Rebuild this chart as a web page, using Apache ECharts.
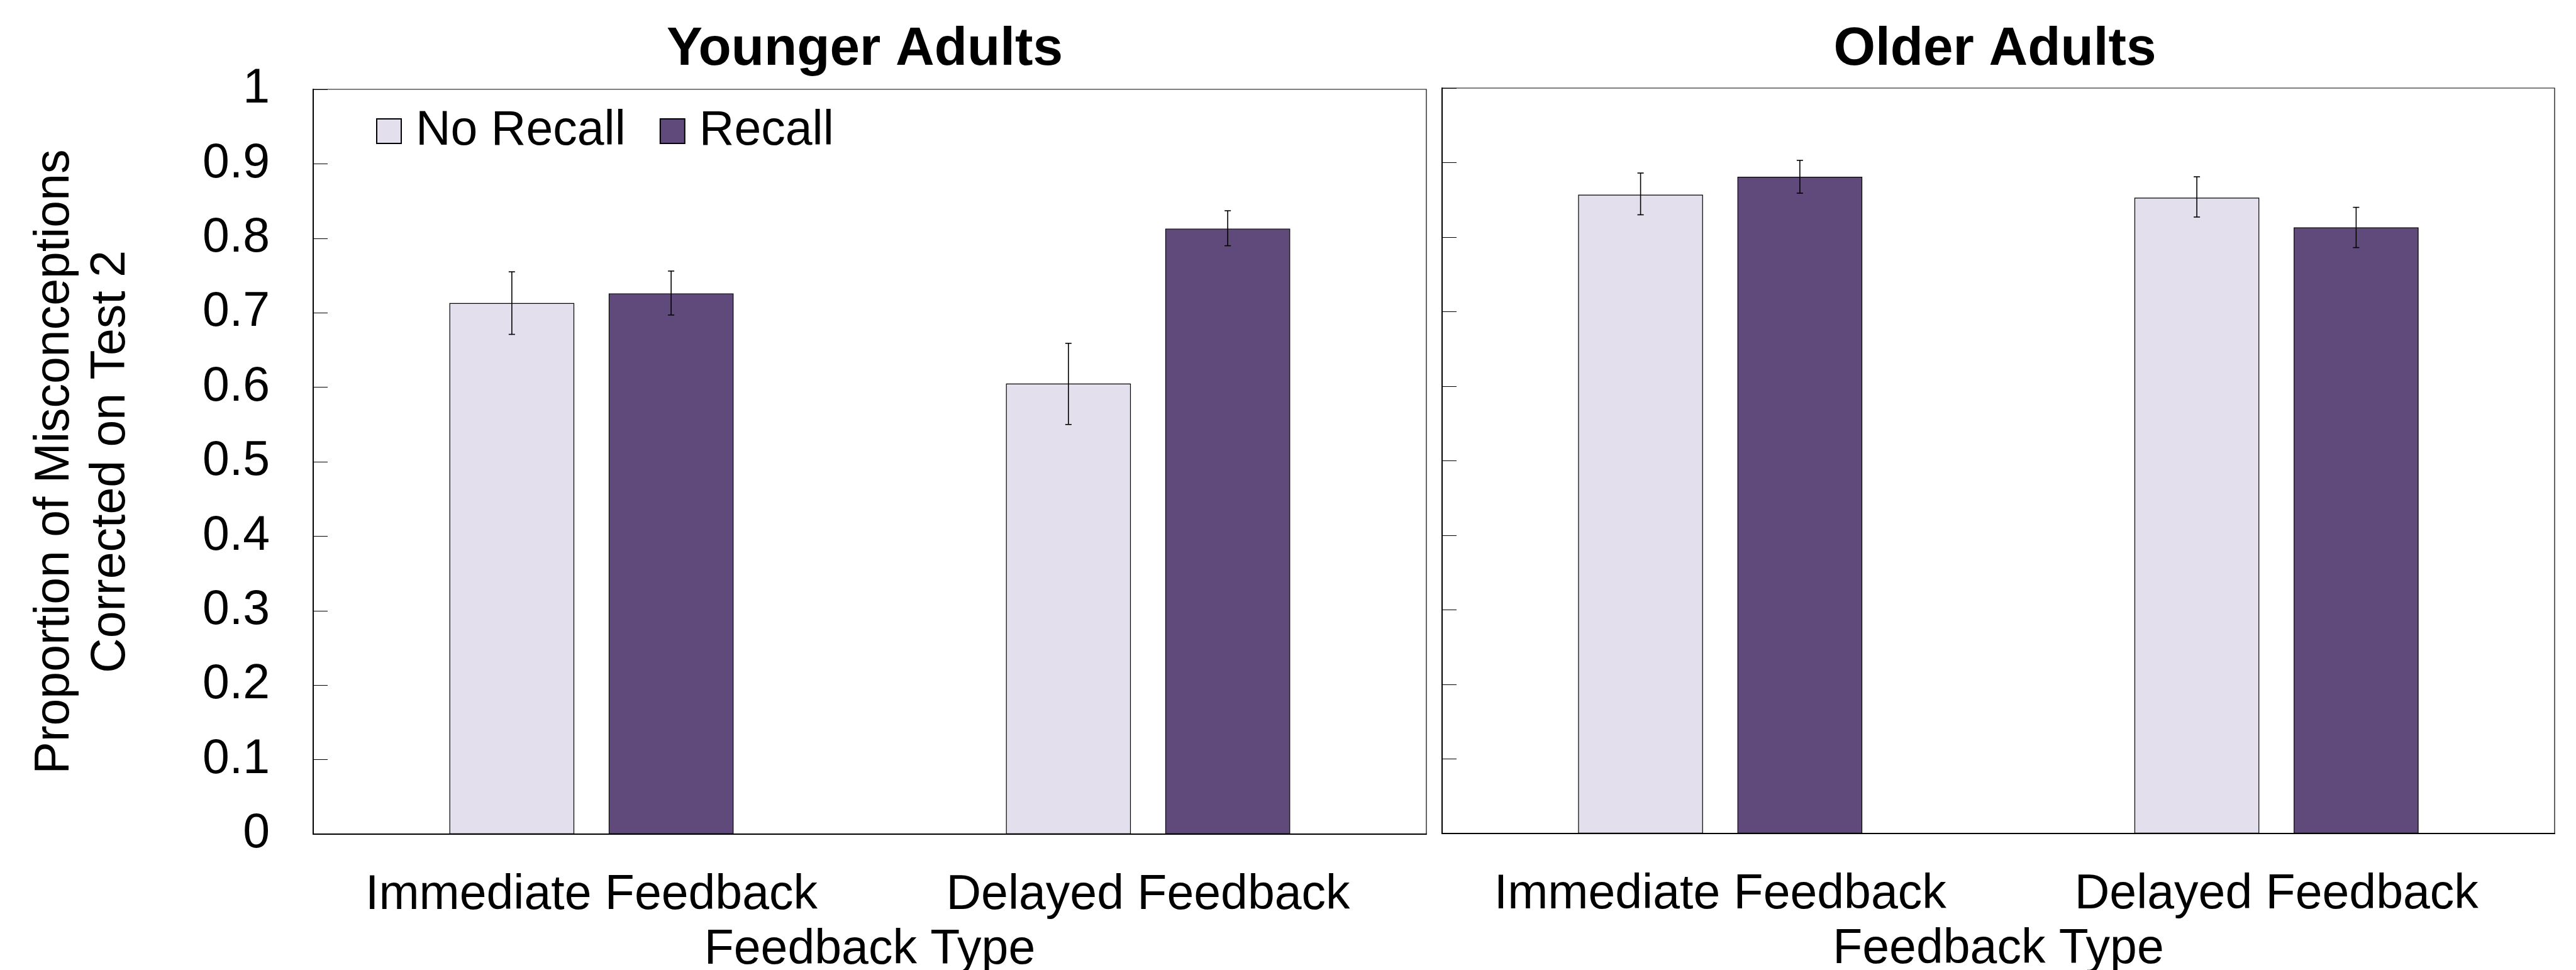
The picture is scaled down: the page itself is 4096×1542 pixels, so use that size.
<!DOCTYPE html>
<html><head><meta charset="utf-8">
<script src="https://cdn.jsdelivr.net/npm/echarts@6/dist/echarts.min.js"></script>
<style>html,body{margin:0;padding:0;background:#fff;} #c{width:4096px;height:1542px;}</style>
</head><body><div id="c"></div>
<script>
// ---- data ----
const categories = ['Immediate Feedback', 'Delayed Feedback'];
const panelTitles = ['Younger Adults', 'Older Adults'];
const seriesNames = ['No Recall', 'Recall'];
const youngNoRecall = [0.713, 0.605];
const youngRecall   = [0.726, 0.813];
const oldNoRecall   = [0.857, 0.853];
const oldRecall     = [0.881, 0.813];
// error bars [low, high]
const youngNoRecallErr = [[0.671, 0.755], [0.550, 0.659]];
const youngRecallErr   = [[0.697, 0.756], [0.790, 0.837]];
const oldNoRecallErr   = [[0.830, 0.886], [0.827, 0.881]];
const oldRecallErr     = [[0.859, 0.903], [0.786, 0.840]];
const yMin = 0, yMax = 1, yStep = 0.1;
const xAxisTitle = 'Feedback Type';
const yAxisTitle = 'Proportion of Misconceptions\nCorrected on Test 2';

// ---- style ----
const FONT = '"Liberation Sans", Arial, sans-serif';
const FS = 77;
const LIGHT = '#E4DFEC', DARK = '#604A7B';
const BAR_W = 198.5, GAP_RATIO = 0.276;
const BAR_OFFSET = (BAR_W + BAR_W * GAP_RATIO) / 2;
const CAP = 5;

const chart = echarts.init(document.getElementById('c'), null, {renderer: 'canvas'});

function barSeries(gi, name, data, color) {
  return {
    type: 'bar', name, xAxisIndex: gi, yAxisIndex: gi, data,
    barWidth: BAR_W, barGap: (GAP_RATIO * 100) + '%',
    itemStyle: {color, borderColor: '#000', borderWidth: 1.2},
    emphasis: {disabled: true}, animation: false
  };
}
function errSeries(gi, data, sign) {
  return {
    type: 'custom', xAxisIndex: gi, yAxisIndex: gi, z: 10,
    data: data.map((d, i) => [i, d[0], d[1]]),
    encode: {x: 0, y: [1, 2]},
    silent: true, animation: false,
    renderItem: (params, api) => {
      const c = api.value(0);
      const lo = api.coord([c, api.value(1)]);
      const hi = api.coord([c, api.value(2)]);
      const x = lo[0] + sign * BAR_OFFSET;
      const st = {stroke: '#000', lineWidth: 1.6};
      return {type: 'group', children: [
        {type: 'line', shape: {x1: x, y1: lo[1], x2: x, y2: hi[1]}, style: st},
        {type: 'line', shape: {x1: x - CAP, y1: lo[1], x2: x + CAP, y2: lo[1]}, style: st},
        {type: 'line', shape: {x1: x - CAP, y1: hi[1], x2: x + CAP, y2: hi[1]}, style: st}
      ]};
    }
  };
}
function xAxis(gi) {
  return {
    type: 'category', gridIndex: gi, data: categories,
    axisLine: {lineStyle: {color: '#000', width: 2}},
    axisTick: {show: false},
    axisLabel: {fontSize: FS, fontFamily: FONT, color: '#000', margin: 98, verticalAlign: 'middle', lineHeight: FS, interval: 0},
    name: xAxisTitle, nameLocation: 'middle', nameGap: 185,
    nameTextStyle: {fontSize: FS, fontFamily: FONT, color: '#000', verticalAlign: 'middle', lineHeight: FS},
    splitLine: {show: false}
  };
}
function yAxis(gi) {
  const a = {
    type: 'value', gridIndex: gi, min: yMin, max: yMax, interval: yStep,
    axisLine: {show: true, lineStyle: {color: '#000', width: 2}},
    axisTick: {show: true, inside: true, length: 23, lineStyle: {color: '#000', width: 1}},
    axisLabel: {show: gi === 0, fontSize: FS, fontFamily: FONT, color: '#000', margin: 69},
    splitLine: {show: false}
  };
  if (gi === 0) {
    a.name = yAxisTitle;
    a.nameLocation = 'middle';
    a.nameRotate = 90;
    a.nameGap = 366;
    a.nameTextStyle = {fontSize: FS, fontFamily: FONT, color: '#000', lineHeight: 89, verticalAlign: 'middle', align: 'center'};
  }
  return a;
}

const option = {
  backgroundColor: '#fff',
  animation: false,
  textStyle: {fontFamily: FONT},
  title: [
    {text: panelTitles[0], left: 1375, top: 79, textAlign: 'center', textVerticalAlign: 'middle', padding: 0,
     textStyle: {fontSize: 85.5, fontWeight: 'bold', fontFamily: FONT, color: '#000'}},
    {text: panelTitles[1], left: 3172, top: 79, textAlign: 'center', textVerticalAlign: 'middle', padding: 0,
     textStyle: {fontSize: 85.5, fontWeight: 'bold', fontFamily: FONT, color: '#000'}}
  ],
  legend: {
    data: seriesNames, left: 598, top: 170, padding: 0, icon: 'rect',
    itemWidth: 39, itemHeight: 39, itemGap: 54,
    textStyle: {fontSize: FS, fontFamily: FONT, color: '#000', padding: [0, 0, 0, 18]},
    selectedMode: false
  },
  grid: [
    {left: 498, top: 142, width: 1770, height: 1184, show: true, borderColor: '#000', borderWidth: 1.2, containLabel: false, outerBoundsMode: 'none'},
    {left: 2293, top: 140, width: 1769, height: 1185, show: true, borderColor: '#000', borderWidth: 1.2, containLabel: false, outerBoundsMode: 'none'}
  ],
  xAxis: [xAxis(0), xAxis(1)],
  yAxis: [yAxis(0), yAxis(1)],
  series: [
    barSeries(0, seriesNames[0], youngNoRecall, LIGHT),
    barSeries(0, seriesNames[1], youngRecall, DARK),
    barSeries(1, seriesNames[0], oldNoRecall, LIGHT),
    barSeries(1, seriesNames[1], oldRecall, DARK),
    errSeries(0, youngNoRecallErr, -1),
    errSeries(0, youngRecallErr, 1),
    errSeries(1, oldNoRecallErr, -1),
    errSeries(1, oldRecallErr, 1)
  ]
};
chart.setOption(option);
</script></body></html>
